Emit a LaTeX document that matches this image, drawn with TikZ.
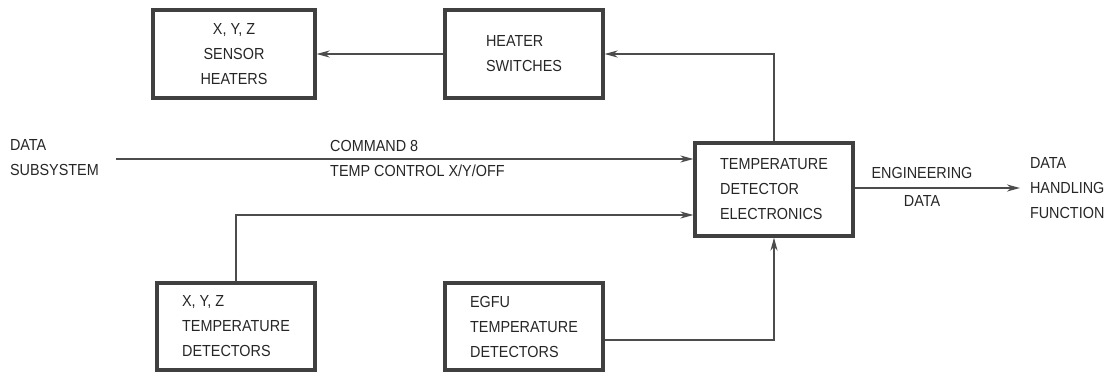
\documentclass[tikz,border=0pt]{standalone}
\usepackage{fontspec}
\setmainfont{Liberation Sans}[FakeStretch=0.9]
\usetikzlibrary{arrows.meta}
\begin{document}
\begin{tikzpicture}[x=1pt,y=1pt,
  every node/.style={font=\fontsize{16}{25}\selectfont, text=black!85},
  blk/.style={draw=black!75, line width=3.2pt, align=left, inner sep=0pt},
  arr/.style={draw=black!70, line width=1.6pt, -{Stealth[length=13pt,width=7pt,inset=4pt]}},
  lbl/.style={align=left, inner sep=0pt}]
\useasboundingbox (0,0) rectangle (1117,-374);
\node[blk, align=center, minimum width=162pt, minimum height=88pt] (sh) at (234,-54) {X, Y, Z\\SENSOR\\HEATERS};
\node[blk, minimum width=158pt, minimum height=88pt] (hs) at (524,-54) {HEATER\\SWITCHES};
\node[blk, minimum width=158pt, minimum height=93pt] (tde) at (774,-189.5) {TEMPERATURE\\DETECTOR\\ELECTRONICS};
\node[blk, minimum width=158pt, minimum height=87pt] (xyz) at (236,-326.5) {X, Y, Z\\TEMPERATURE\\DETECTORS};
\node[blk, minimum width=158pt, minimum height=87pt] (egfu) at (524,-326.5) {EGFU\\TEMPERATURE\\DETECTORS};
\node[lbl, anchor=west, outer sep=17pt] (ds) at (-7,-157.5) {DATA\\SUBSYSTEM};
\node[lbl, anchor=west, outer sep=10pt] (dhf) at (1020,-188) {DATA\\HANDLING\\FUNCTION};
\node[lbl, anchor=west] (cmd) at (330,-158) {COMMAND 8\\TEMP CONTROL X/Y/OFF};
\node[lbl, align=center] (eng) at (922,-187) {ENGINEERING\\[3pt]DATA};
\draw[arr] (hs.west) -- (sh.east);
\draw[arr] (tde.north) |- (hs.east);
\draw[arr] ([yshift=-1.5pt]ds.east) -- ([yshift=-1.5pt]ds.east -| tde.west);
\draw[arr] (xyz.north) |- ([yshift=-25.5pt]tde.west);
\draw[arr] ([yshift=-13.5pt]egfu.east) -| (tde.south);
\draw[arr] (tde.east |- dhf.west) -- (dhf.west);
\end{tikzpicture}
\end{document}
